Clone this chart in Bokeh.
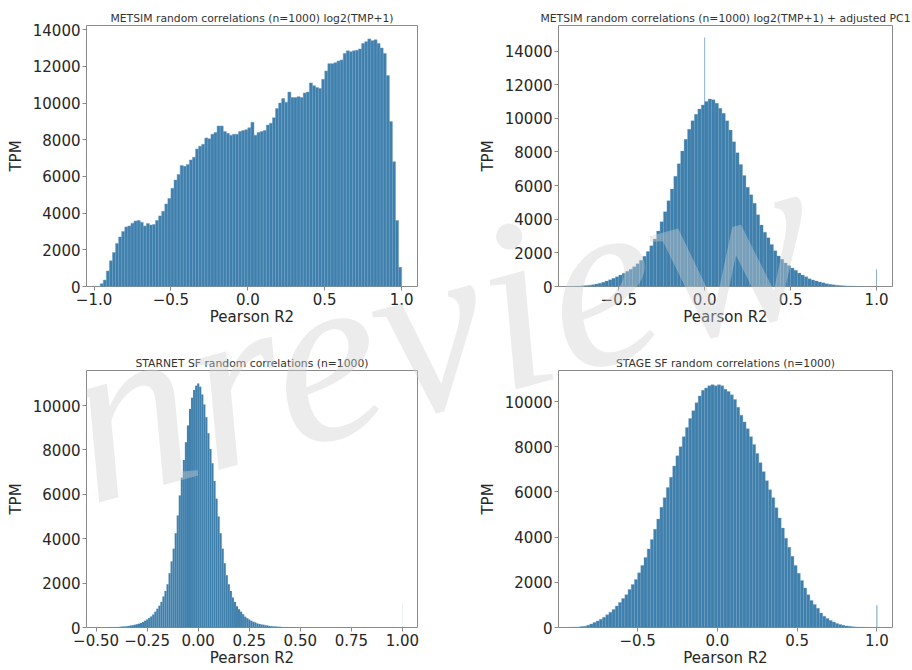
import math

from bokeh.plotting import figure
from bokeh.models import Range1d, FixedTicker, Label, GridBox
from bokeh.embed import file_html
from bokeh.resources import INLINE

# ---------------------------------------------------------------------------
# Histogram data (bin centres are first_center + i * bin_width)
# ---------------------------------------------------------------------------

# METSIM random correlations (n=1000) log2(TMP+1)
metsim_bin_width = 0.02
metsim_first_center = -0.95
metsim_counts = [
    150, 350, 850, 1400, 1850, 2350, 2700, 3000, 3250, 3300,
    3450, 3570, 3600, 3500, 3300, 3430, 3350, 3380, 3600, 3850,
    4100, 4500, 4800, 5350, 5800, 6100, 6600, 6550, 6650, 6900,
    7050, 7500, 7650, 7750, 8100, 8050, 8300, 8400, 8750, 8750,
    8450, 8350, 8250, 8300, 8300, 8450, 8500, 8550, 8650, 8950,
    8250, 8400, 8450, 8500, 8800, 8900, 9200, 9700, 10000, 10250,
    10050, 10600, 10300, 10300, 10350, 10300, 10550, 10600, 11100, 10950,
    10850, 10800, 11300, 11750, 12150, 12150, 12200, 12300, 12350, 12700,
    12850, 12800, 12850, 12880, 12950, 13250, 13350, 13500, 13400, 13450,
    13250, 13000, 12700, 11500, 9000, 6800, 3600, 1050,
]

# METSIM random correlations (n=1000) log2(TMP+1) + adjusted PC1
metsim_pc1_bin_width = 0.02
metsim_pc1_first_center = -0.77
metsim_pc1_counts = [
    10, 20, 30, 40, 60, 80, 110, 150, 190, 250,
    320, 400, 490, 580, 680, 790, 900, 1020, 1170, 1350,
    1560, 1800, 2080, 2420, 2820, 3300, 3850, 4450, 5100, 5800,
    6550, 7300, 8050, 8750, 9350, 9850, 10250, 10550, 10800, 11000,
    11150, 11100, 10900, 10600, 10300, 9850, 9300, 8600, 7950, 7250,
    6600, 5900, 5450, 4950, 4270, 3650, 3230, 2900, 2500, 2120,
    1820, 1620, 1400, 1250, 1100, 960, 800, 680, 580, 460,
    390, 330, 270, 220, 170, 130, 100, 75, 55, 40,
    28, 18, 10, 5, 2,
]
metsim_pc1_spike_x = [0.0, 1.0]
metsim_pc1_spike_counts = [14800, 1030]

# STARNET SF random correlations (n=1000)
starnet_bin_width = 0.01
starnet_first_center = -0.45
starnet_counts = [
    5, 8, 10, 12, 15, 20, 25, 32, 40, 48,
    58, 70, 85, 100, 120, 145, 170, 200, 245, 300,
    360, 430, 500, 590, 710, 840, 980, 1150, 1400, 1650,
    1950, 2450, 2980, 3550, 4250, 5050, 5950, 6750, 7550, 8350,
    9100, 9850, 10350, 10700, 10900, 11000, 10850, 10500, 10050, 9480,
    8750, 8050, 7400, 6600, 5800, 5000, 4250, 3550, 2900, 2350,
    1950, 1650, 1350, 1150, 960, 820, 710, 600, 490, 420,
    360, 300, 260, 220, 185, 160, 140, 120, 100, 85,
    72, 60, 50, 42, 35, 30, 25, 20, 17, 14,
    11, 9, 7, 5,
]
starnet_spike_x = [1.0]
starnet_spike_counts = [1100]

# STAGE SF random correlations (n=1000)
stage_bin_width = 0.02
stage_first_center = -0.93
stage_counts = [
    5, 10, 15, 25, 40, 60, 100, 150, 220, 290,
    370, 450, 560, 680, 800, 950, 1110, 1280, 1450, 1680,
    1900, 2130, 2420, 2750, 3100, 3480, 3900, 4350, 4800, 5320,
    5750, 6200, 6650, 7150, 7600, 8000, 8450, 8850, 9250, 9600,
    9950, 10250, 10500, 10600, 10700, 10750, 10700, 10750, 10700, 10550,
    10450, 10300, 10100, 9750, 9400, 9100, 8800, 8450, 8100, 7700,
    7300, 6900, 6500, 6100, 5750, 5300, 4850, 4400, 3950, 3550,
    3150, 2750, 2400, 2080, 1750, 1450, 1200, 1020, 850, 640,
    500, 400, 310, 240, 180, 130, 95, 70, 50, 35,
    25, 15, 10, 5,
]
stage_spike_x = [1.0]
stage_spike_counts = [990]

# Tick values
ticks_halves = [-1.0, -0.5, 0.0, 0.5, 1.0]
ticks_quarters = [-0.5, -0.25, 0.0, 0.25, 0.5, 0.75, 1.0]
ticks_count_14k = [0, 2000, 4000, 6000, 8000, 10000, 12000, 14000]
ticks_count_10k = [0, 2000, 4000, 6000, 8000, 10000]

watermark_text = "Inreview"

# ---------------------------------------------------------------------------
# Styling
# ---------------------------------------------------------------------------
FONT = "DejaVu Sans"
BAR_FILL = "#3f7fab"
BAR_EDGE = "#6c9fc6"
FRAME = "#8a8a8a"
TEXT = "#262626"
PANEL_W, PANEL_H = 456, 335
SHEET_W, SHEET_H = 2 * PANEL_W, 2 * PANEL_H


def tick_text(v, digits):
    s = f"{abs(v):.{digits}f}"
    return ("\u2212" + s) if v < 0 else s


def centers(first, width, n):
    return [first + i * width for i in range(n)]


def make_panel(title, xs, counts, width, x_rng, y_end, xticks, xdigits, yticks,
               borders, edge_alpha=1.0, spike_x=None, spike_counts=None,
               spike_width=0.005, spike_alpha=1.0):
    left, right, top, bottom = borders
    p = figure(width=PANEL_W, height=PANEL_H,
               x_range=Range1d(*x_rng), y_range=Range1d(0, y_end),
               output_backend="svg", toolbar_location=None,
               min_border_left=left, min_border_right=right,
               min_border_top=top, min_border_bottom=bottom,
               background_fill_color="white", border_fill_color="white")

    p.vbar(x=xs, top=counts, width=width, bottom=0,
           fill_color=BAR_FILL, line_color=BAR_EDGE, line_alpha=edge_alpha,
           line_width=0.5)
    if spike_x:
        p.vbar(x=spike_x, top=spike_counts, width=spike_width, bottom=0,
               fill_color=BAR_FILL, fill_alpha=spike_alpha, line_color=None)

    p.title.text = title
    p.title.align = "center"
    p.title.text_font = FONT
    p.title.text_font_size = "10.8px"
    p.title.text_font_style = "normal"
    p.title.text_color = "#333333"
    p.title.standoff = 2

    p.xgrid.grid_line_color = None
    p.ygrid.grid_line_color = None
    p.outline_line_color = FRAME
    p.outline_line_width = 1

    for ax in (p.xaxis[0], p.yaxis[0]):
        ax.axis_line_color = None
        ax.minor_tick_line_color = None
        ax.major_tick_in = 0
        ax.major_tick_out = 4
        ax.major_tick_line_color = FRAME
        ax.major_label_text_font = FONT
        ax.major_label_text_font_size = "15px"
        ax.major_label_text_color = TEXT
        ax.axis_label_text_font = FONT
        ax.axis_label_text_font_size = "15px"
        ax.axis_label_text_font_style = "normal"
        ax.axis_label_text_color = TEXT
        ax.major_label_standoff = 2

    p.xaxis.ticker = FixedTicker(ticks=xticks)
    p.xaxis.major_label_overrides = {t: tick_text(t, xdigits) for t in xticks}
    p.xaxis.axis_label = "Pearson R2"
    p.xaxis.axis_label_standoff = 0

    p.yaxis.ticker = FixedTicker(ticks=yticks)
    p.yaxis.major_label_overrides = {t: str(t) for t in yticks}
    p.yaxis.axis_label = "TPM"
    p.yaxis.axis_label_standoff = 5
    return p


p1 = make_panel("METSIM random correlations (n=1000) log2(TMP+1)",
                centers(metsim_first_center, metsim_bin_width, len(metsim_counts)),
                metsim_counts, metsim_bin_width,
                (-1.049, 1.103), 14230, ticks_halves, 1, ticks_count_14k,
                (86, 35, 24, 49))

p2 = make_panel("METSIM random correlations (n=1000) log2(TMP+1) + adjusted PC1",
                centers(metsim_pc1_first_center, metsim_pc1_bin_width, len(metsim_pc1_counts)),
                metsim_pc1_counts, metsim_pc1_bin_width,
                (-0.851, 1.093), 15520, ticks_halves[1:], 1, ticks_count_14k,
                (102, 20, 25, 49), edge_alpha=0.5,
                spike_x=metsim_pc1_spike_x, spike_counts=metsim_pc1_spike_counts,
                spike_width=0.005, spike_alpha=0.7)

p3 = make_panel("STARNET SF random correlations (n=1000)",
                centers(starnet_first_center, starnet_bin_width, len(starnet_counts)),
                starnet_counts, starnet_bin_width,
                (-0.547, 1.074), 11583, ticks_quarters, 2, ticks_count_10k,
                (82, 39, 31, 43), edge_alpha=0.3,
                spike_x=starnet_spike_x, spike_counts=starnet_spike_counts,
                spike_width=0.003, spike_alpha=0.15)

p4 = make_panel("STAGE SF random correlations (n=1000)",
                centers(stage_first_center, stage_bin_width, len(stage_counts)),
                stage_counts, stage_bin_width,
                (-0.996, 1.098), 11379, ticks_halves[1:], 1, ticks_count_10k,
                (102, 19, 35, 39), edge_alpha=0.7,
                spike_x=stage_spike_x, spike_counts=stage_spike_counts,
                spike_width=0.008, spike_alpha=0.6)

# Transparent sheet laid over the four panels carrying the diagonal watermark
sheet = figure(width=SHEET_W, height=SHEET_H, output_backend="svg",
               toolbar_location=None, x_axis_type=None, y_axis_type=None,
               min_border=0, outline_line_color=None,
               background_fill_alpha=0, border_fill_alpha=0)
sheet.add_layout(Label(x=-10, y=446, x_units="canvas", y_units="canvas",
                       text=watermark_text, angle=math.radians(15.2),
                       text_font="Liberation Serif", text_font_size="245px",
                       text_font_style="italic",
                       text_color="#cfcfcf", text_alpha=0.4,
                       text_align="left", text_baseline="alphabetic"))

layout = GridBox(children=[(p1, 0, 0), (p2, 0, 1), (p3, 1, 0), (p4, 1, 1),
                           (sheet, 0, 0, 2, 2)])

open("out.html", "w").write(file_html(layout, INLINE))
